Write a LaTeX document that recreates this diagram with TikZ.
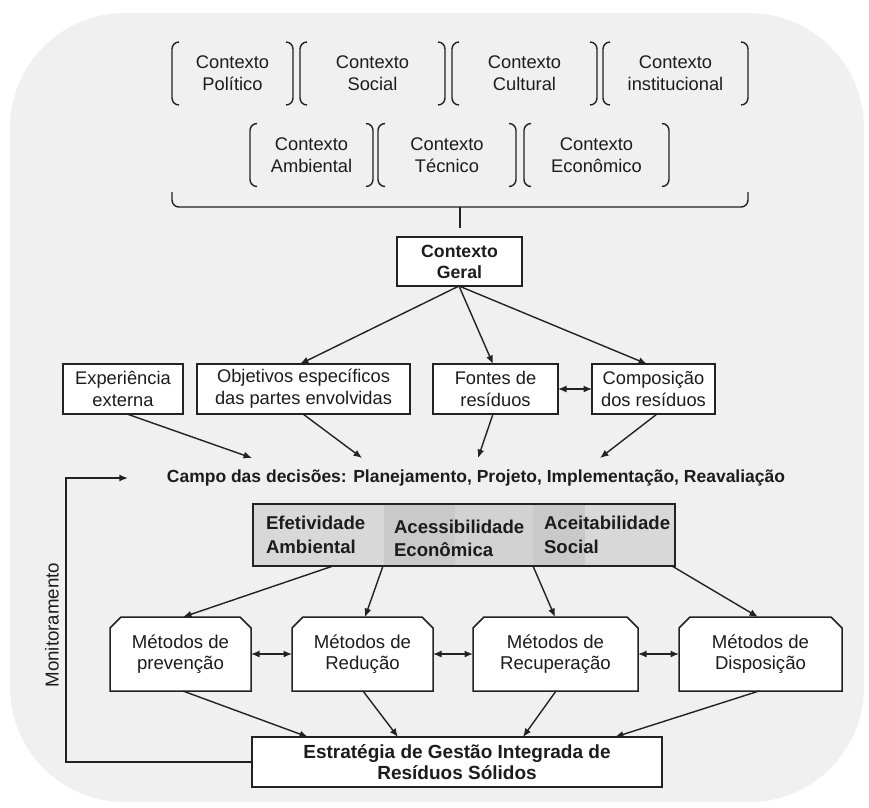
\documentclass[tikz,border=0pt]{standalone}
\usepackage{fontspec}
\setmainfont{Liberation Sans}
\usetikzlibrary{arrows.meta}
\definecolor{ink}{HTML}{1C1C1C}
\definecolor{edgecol}{HTML}{222222}
\definecolor{bggray}{HTML}{F0F0F0}
\definecolor{critA}{HTML}{D8D8D8}
\definecolor{critB}{HTML}{C9C9C9}
\definecolor{critC}{HTML}{D2D2D2}
\pgfdeclarelayer{bg}
\pgfdeclarelayer{shapes}
\pgfsetlayers{bg,shapes,main}
\begin{document}
\begin{tikzpicture}[x=1pt,y=-1pt,
  every node/.style={inner sep=0pt, outer sep=0pt, align=center, text=ink},
  lbl/.style={font=\fontsize{18.3}{22}\selectfont},
  ctx/.style={lbl, minimum height=63pt},
  bracket/.style={draw=edgecol, line width=1.4pt, rounded corners=7pt},
  plainbox/.style={draw=edgecol, fill=white, line width=1.5pt, minimum height=50pt},
  boxline/.style={draw=edgecol, line width=1.5pt},
  metbox/.style={minimum height=74pt, font=\fontsize{18.6}{21.7}\selectfont},
  crittext/.style={anchor=west, align=left, font=\fontsize{18.6}{24}\bfseries\selectfont},
  arr/.style={draw=edgecol, line width=1.4pt, -{Latex[length=8.5pt,width=7pt]}},
  darr/.style={draw=edgecol, line width=1.4pt, {Latex[length=8.5pt,width=7pt]}-{Latex[length=8.5pt,width=7pt]}},
]
\useasboundingbox (0,0) rectangle (869,807);
\begin{pgfonlayer}{bg}
  \fill[white] (0,0) rectangle (869,807);
  \fill[bggray, rounded corners=115pt] (10,13) rectangle (864,802);
\end{pgfonlayer}

% context items in brackets
\node[ctx, minimum width=121pt] (pol) at (232.5,73.5) {Contexto\\Político};
\node[ctx, minimum width=145pt] (soc) at (372.5,73.5) {Contexto\\Social};
\node[ctx, minimum width=145pt] (cul) at (524.5,73.5) {Contexto\\Cultural};
\node[ctx, minimum width=145pt] (ins) at (675.5,73.5) {Contexto\\institucional};
\node[ctx, minimum width=123pt] (amb) at (311.5,155) {Contexto\\Ambiental};
\node[ctx, minimum width=138pt] (tec) at (447,155) {Contexto\\Técnico};
\node[ctx, minimum width=145pt] (eco) at (596.5,155) {Contexto\\Econômico};
\foreach \n in {pol,soc,cul,ins,amb,tec,eco} {
  \draw[bracket] ([xshift=7pt]\n.north west) -- (\n.north west) -- (\n.south west) -- ([xshift=7pt]\n.south west);
  \draw[bracket] ([xshift=-7pt]\n.north east) -- (\n.north east) -- (\n.south east) -- ([xshift=-7pt]\n.south east);
}
% gathering brace
\draw[bracket] (172,192) -- (172,207) -- (748,207) -- (748,192);
\draw[draw=edgecol, line width=1.4pt] (460,207) -- (460,228);

% general context
\node[plainbox, minimum width=125pt, minimum height=49pt, font=\fontsize{17.7}{21}\bfseries\selectfont] (ger) at (459.5,261.5) {Contexto\\Geral};

% inputs
\node[plainbox, lbl, minimum width=120pt] (exp) at (123,389) {Experiência\\externa};
\node[plainbox, lbl, minimum width=213pt] (obj) at (303.5,389) {Objetivos específicos\\das partes envolvidas};
\node[plainbox, lbl, minimum width=125pt] (fon) at (495.5,389) {Fontes de\\resíduos};
\node[plainbox, lbl, minimum width=123pt] (com) at (653.5,389) {Composição\\dos resíduos};

\draw[arr] ([xshift=-0.5pt]ger.south) -- ([xshift=-3.5pt]obj.north);
\draw[arr] ([xshift=-0.5pt]ger.south) -- ([xshift=-2.5pt]fon.north);
\draw[arr] ([xshift=-0.5pt]ger.south) -- ([xshift=-6.5pt]com.north);
\draw[darr] (fon.east) -- (com.west);

% decision field
\node[font=\fontsize{17.5}{21}\bfseries\selectfont, text height=13pt, text depth=4pt] (cam) at (476,478)
  {Campo das decisões: Planejamento, Projeto, Implementação, Reavaliação};
\draw[arr] ([xshift=4pt]exp.south) -- ([shift={(-224,-11.5)}]cam.north);
\draw[arr] ([xshift=-0.5pt]obj.south) -- ([shift={(-114,-11.5)}]cam.north);
\draw[arr] ([xshift=-2.5pt]fon.south) -- ([shift={(2,-11.5)}]cam.north);
\draw[arr] ([xshift=3.5pt]com.south) -- ([shift={(124,-11.5)}]cam.north);

% criteria band
\node[fill=critA, minimum width=422pt, minimum height=62pt] (cri) at (464,535) {};
\fill[critB] (384,504) rectangle (455,566);
\fill[critC] (455,504) rectangle (533,566);
\fill[critB] (533,504) rectangle (585,566);
\draw[boxline] (cri.north west) rectangle (cri.south east);
\node[crittext] (efe) at (266,535) {Efetividade\\Ambiental};
\node[crittext, font=\fontsize{18.6}{23}\bfseries\selectfont] (ace) at (394,538.5) {Acessibilidade\\Econômica};
\node[crittext] (soa) at (544,535) {Aceitabilidade\\Social};

% methods
\node[metbox, minimum width=141pt] (prv) at (180.5,654) {Métodos de\\prevenção};
\node[metbox, minimum width=141pt] (red) at (362.5,654) {Métodos de\\Redução};
\node[metbox, minimum width=165pt] (rec) at (555.5,654) {Métodos de\\Recuperação};
\node[metbox, minimum width=163pt] (dsp) at (760.5,654) {Métodos de\\Disposição};
\begin{pgfonlayer}{shapes}
\foreach \n in {prv,red,rec,dsp} {
  \draw[boxline, fill=white] (\n.south west) -- ([yshift=-11pt]\n.north west) -- ([xshift=11pt]\n.north west)
    -- ([xshift=-11pt]\n.north east) -- ([yshift=-11pt]\n.north east) -- (\n.south east) -- cycle;
}
\end{pgfonlayer}
\draw[darr] (prv.east) -- (red.west);
\draw[darr] (red.east) -- (rec.west);
\draw[darr] (rec.east) -- (dsp.west);

\draw[arr] ([xshift=-131pt]cri.south) -- ([xshift=2.5pt]prv.north);
\draw[arr] ([xshift=-81pt]cri.south) -- ([xshift=2.5pt]red.north);
\draw[arr] ([xshift=69pt]cri.south) -- ([xshift=-0.5pt]rec.north);
\draw[arr] ([xshift=208pt]cri.south) -- ([xshift=-2.5pt]dsp.north);

% strategy
\node[plainbox, minimum width=410pt, font=\fontsize{19}{21}\bfseries\selectfont] (str) at (457,762)
  {Estratégia de Gestão Integrada de\\Resíduos Sólidos};
\draw[arr] ([xshift=2.5pt]prv.south) -- ([xshift=-149pt]str.north);
\draw[arr] ([xshift=0.5pt]red.south) -- ([xshift=-59pt]str.north);
\draw[arr] ([xshift=0.5pt]rec.south) -- ([xshift=66pt]str.north);
\draw[arr] ([xshift=-1.5pt]dsp.south) -- ([xshift=158pt]str.north);

% monitoring loop
\draw[arr] (str.west) -- ++(-186,0) |- ([xshift=-39pt]cam.west);
\node[rotate=90, font=\fontsize{18.7}{22}\selectfont] (mon) at (52,625) {Monitoramento};
\end{tikzpicture}
\end{document}
